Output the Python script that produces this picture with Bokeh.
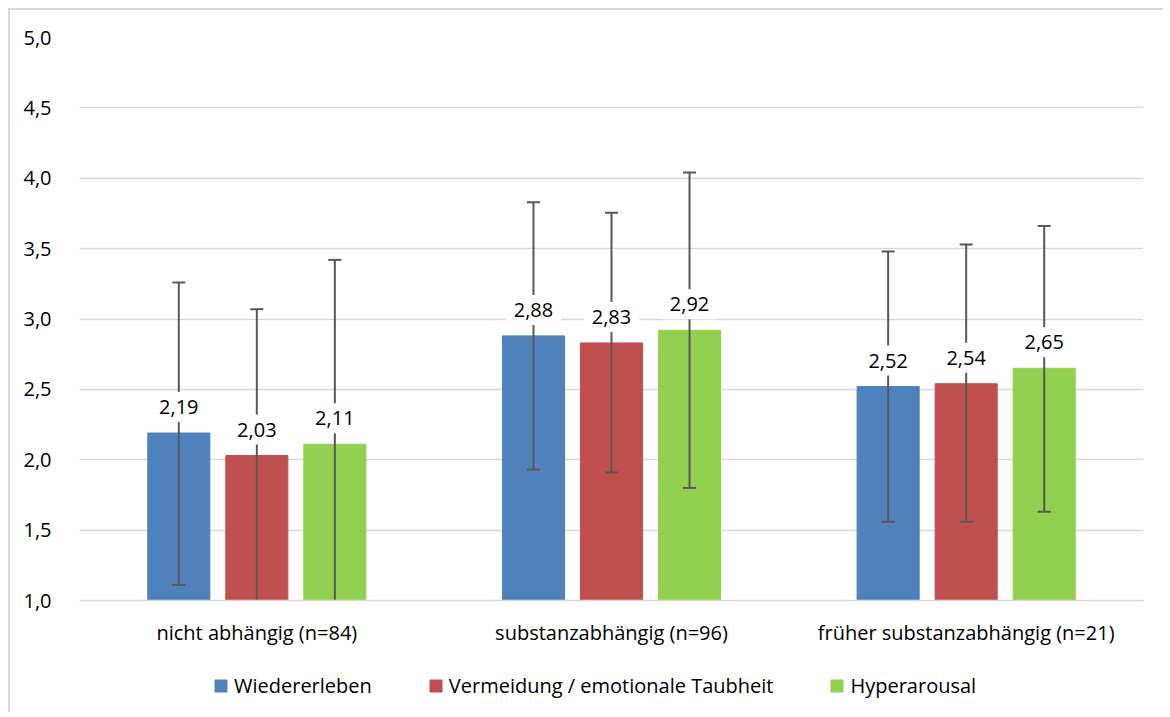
from bokeh.plotting import figure
from bokeh.layouts import column
from bokeh.models import (ColumnDataSource, FactorRange, FixedTicker, CustomJSTickFormatter,
                          Legend, LegendItem, Range1d)
from bokeh.transform import dodge
from bokeh.core.properties import value
from bokeh.embed import file_html
from bokeh.resources import INLINE

categories = ["nicht abhängig (n=84)", "substanzabhängig (n=96)", "früher substanzabhängig (n=21)"]
series = ["Wiedererleben", "Vermeidung / emotionale Taubheit", "Hyperarousal"]
colors = ["#4f81bd", "#c0504d", "#92d050"]

means = {
    "Wiedererleben": [2.19, 2.88, 2.52],
    "Vermeidung / emotionale Taubheit": [2.03, 2.83, 2.54],
    "Hyperarousal": [2.11, 2.92, 2.65],
}
upper = {
    "Wiedererleben": [3.26, 3.83, 3.48],
    "Vermeidung / emotionale Taubheit": [3.07, 3.755, 3.53],
    "Hyperarousal": [3.42, 4.04, 3.66],
}
lower = {
    "Wiedererleben": [1.11, 1.93, 1.56],
    "Vermeidung / emotionale Taubheit": [0.99, 1.91, 1.56],
    "Hyperarousal": [0.80, 1.80, 1.63],
}
y_ticks = [1.0, 1.5, 2.0, 2.5, 3.0, 3.5, 4.0, 4.5, 5.0]

FONT = "Open Sans"
FS = "20px"
offsets = [-0.22, 0.0, 0.22]

p = figure(x_range=FactorRange(*categories, range_padding=0), y_range=(1.0, 5.0),
           frame_width=1064, frame_height=563, output_backend="svg", toolbar_location=None,
           min_border_left=69, min_border_right=20, min_border_top=27, min_border_bottom=60)
p.outline_line_color = None
p.background_fill_color = "white"
p.border_fill_color = "white"

p.xgrid.visible = False
p.ygrid.grid_line_color = "#d9d9d9"
p.ygrid.grid_line_width = 1.5
p.ygrid.level = "underlay"

p.yaxis.ticker = FixedTicker(ticks=y_ticks)
p.yaxis.formatter = CustomJSTickFormatter(code="return tick.toFixed(1).replace('.', ',');")
p.yaxis.axis_line_color = None
p.yaxis.major_tick_line_color = None
p.yaxis.minor_tick_line_color = None
p.yaxis.major_label_standoff = 22
p.yaxis.major_label_text_font = FONT
p.yaxis.major_label_text_font_size = FS
p.yaxis.major_label_text_color = "#000000"

p.xaxis.axis_line_color = "#d9d9d9"
p.xaxis.axis_line_width = 1.5
p.xaxis.major_tick_line_color = None
p.xaxis.minor_tick_line_color = None
p.xaxis.major_label_standoff = 12
p.xaxis.major_label_text_font = FONT
p.xaxis.major_label_text_font_size = FS
p.xaxis.major_label_text_color = "#000000"

# legend strip below the chart (same data, drawn out of view, only the legend shows)
lg = figure(x_range=FactorRange(*categories, range_padding=0), y_range=Range1d(10, 11),
            frame_width=1064, frame_height=52, output_backend="svg", toolbar_location=None,
            min_border_left=69, min_border_right=20, min_border_top=0, min_border_bottom=0,
            x_axis_location=None, y_axis_location=None)
lg.outline_line_color = None
lg.xgrid.visible = False
lg.ygrid.visible = False
lg.background_fill_color = "white"
lg.border_fill_color = "white"

items = []
for s, c, off in zip(series, colors, offsets):
    src = ColumnDataSource(dict(
        cat=categories,
        mean=means[s],
        up=upper[s],
        lo=lower[s],
        lab=[f"{v:.2f}".replace(".", ",") for v in means[s]],
    ))
    xd = dodge("cat", off, range=p.x_range)
    p.vbar(x=xd, top="mean", bottom=1.0, width=0.175, source=src,
           fill_color=c, line_color=c)
    p.segment(x0=xd, y0="lo", x1=xd, y1="up", source=src, line_color="#595959", line_width=2)
    p.scatter(x=xd, y="up", marker="dash", size=13, source=src, line_color="#595959", line_width=2)
    p.scatter(x=xd, y="lo", marker="dash", size=13, source=src, line_color="#595959", line_width=2)
    p.text(x=xd, y="mean", text="lab", source=src, y_offset=-26,
           text_align="center", text_baseline="middle",
           text_font=value(FONT), text_font_size=FS, text_color="#000000",
           background_fill_color="white", padding=8)
    r = lg.vbar(x=dodge("cat", off, range=lg.x_range), top="mean", bottom=1.0, width=0.175,
                source=src, fill_color=c, line_color=c)
    items.append(LegendItem(label=s, renderers=[r]))

legend = Legend(items=items, orientation="horizontal", location=(134, 13),
                label_text_font=FONT, label_text_font_size=FS, label_text_color="#000000",
                glyph_width=15, glyph_height=15, spacing=56, label_standoff=6,
                border_line_color=None, background_fill_alpha=0, margin=0, padding=0)
lg.add_layout(legend, "center")

layout = column(p, lg, spacing=0,
                styles={"margin-left": "8px", "margin-top": "8px",
                        "border-left": "2px solid #d9d9d9", "border-top": "2px solid #d9d9d9"})

open("out.html", "w").write(file_html(layout, INLINE))
